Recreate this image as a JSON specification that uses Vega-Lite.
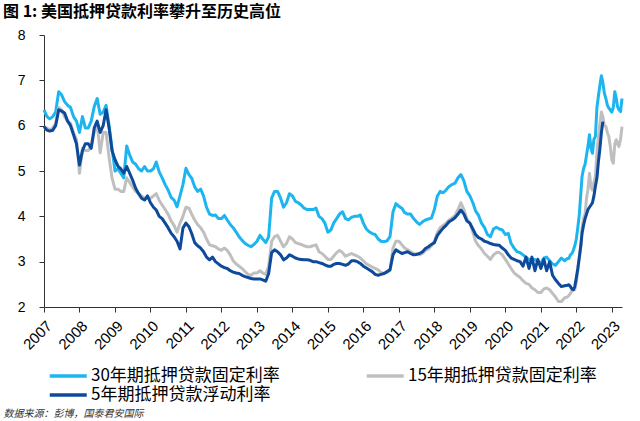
{
  "$schema": "https://vega.github.io/schema/vega-lite/v6.json",
  "width": 578,
  "height": 272,
  "autosize": "none",
  "padding": {"left": 44, "top": 35, "right": 18, "bottom": 114},
  "background": "white",
  "title": {
    "text": "图 1: 美国抵押贷款利率攀升至历史高位",
    "anchor": "start",
    "frame": "group",
    "dx": -41,
    "offset": -8,
    "baseline": "bottom",
    "fontSize": 16,
    "font": "Noto Sans CJK SC",
    "fontWeight": "bold",
    "color": "#000000"
  },
  "config": {
    "view": {"stroke": null},
    "axis": {"labelFont": "Liberation Sans", "labelColor": "#000000", "domainColor": "#333333", "tickColor": "#333333", "grid": false}
  },
  "data": {
    "values": [
      {"d": "2007-01-01", "a": 6.35, "b": 5.95, "c": 5.98},
      {"d": "2007-02-01", "a": 6.2, "b": 5.95, "c": 5.9},
      {"d": "2007-03-01", "a": 6.15, "b": 5.9, "c": 5.88},
      {"d": "2007-04-01", "a": 6.2, "b": 5.95, "c": 5.9},
      {"d": "2007-05-01", "a": 6.3, "b": 6.05, "c": 6.0},
      {"d": "2007-06-01", "a": 6.75, "b": 6.4, "c": 6.35},
      {"d": "2007-07-01", "a": 6.68, "b": 6.35, "c": 6.32},
      {"d": "2007-08-01", "a": 6.53, "b": 6.2, "c": 6.28},
      {"d": "2007-09-01", "a": 6.45, "b": 6.1, "c": 6.1},
      {"d": "2007-10-01", "a": 6.4, "b": 6.05, "c": 6.0},
      {"d": "2007-11-01", "a": 6.2, "b": 5.85, "c": 5.8},
      {"d": "2007-12-01", "a": 6.1, "b": 5.7, "c": 5.6},
      {"d": "2008-01-01", "a": 5.85, "b": 4.95, "c": 5.13},
      {"d": "2008-02-01", "a": 6.2, "b": 5.5, "c": 5.45},
      {"d": "2008-03-01", "a": 5.95, "b": 5.45, "c": 5.6},
      {"d": "2008-04-01", "a": 5.95, "b": 5.45, "c": 5.6},
      {"d": "2008-05-01", "a": 6.1, "b": 5.55, "c": 5.5},
      {"d": "2008-06-01", "a": 6.42, "b": 5.85, "c": 5.95},
      {"d": "2008-07-01", "a": 6.6, "b": 6.05, "c": 6.1},
      {"d": "2008-08-01", "a": 6.25, "b": 5.4, "c": 5.85},
      {"d": "2008-09-01", "a": 6.3, "b": 5.85, "c": 6.0},
      {"d": "2008-10-01", "a": 6.45, "b": 5.85, "c": 6.35},
      {"d": "2008-11-01", "a": 6.0, "b": 5.3, "c": 5.95},
      {"d": "2008-12-01", "a": 5.5, "b": 4.85, "c": 5.45},
      {"d": "2009-01-01", "a": 5.0, "b": 4.6, "c": 5.25},
      {"d": "2009-02-01", "a": 5.05, "b": 4.6, "c": 5.1},
      {"d": "2009-03-01", "a": 4.95, "b": 4.55, "c": 5.05},
      {"d": "2009-04-01", "a": 4.85, "b": 4.55, "c": 4.95},
      {"d": "2009-05-01", "a": 5.55, "b": 4.85, "c": 5.1},
      {"d": "2009-06-01", "a": 5.35, "b": 4.75, "c": 4.95},
      {"d": "2009-07-01", "a": 5.2, "b": 4.65, "c": 4.8},
      {"d": "2009-08-01", "a": 5.15, "b": 4.55, "c": 4.62},
      {"d": "2009-09-01", "a": 5.05, "b": 4.5, "c": 4.5},
      {"d": "2009-10-01", "a": 5.0, "b": 4.45, "c": 4.4},
      {"d": "2009-11-01", "a": 5.1, "b": 4.4, "c": 4.36},
      {"d": "2009-12-01", "a": 5.0, "b": 4.4, "c": 4.45},
      {"d": "2010-01-01", "a": 5.0, "b": 4.4, "c": 4.3},
      {"d": "2010-02-01", "a": 5.05, "b": 4.45, "c": 4.2},
      {"d": "2010-03-01", "a": 5.2, "b": 4.5, "c": 4.14},
      {"d": "2010-04-01", "a": 4.98, "b": 4.35, "c": 4.0},
      {"d": "2010-05-01", "a": 4.85, "b": 4.25, "c": 3.95},
      {"d": "2010-06-01", "a": 4.7, "b": 4.15, "c": 3.85},
      {"d": "2010-07-01", "a": 4.58, "b": 4.05, "c": 3.75},
      {"d": "2010-08-01", "a": 4.42, "b": 3.9, "c": 3.63},
      {"d": "2010-09-01", "a": 4.36, "b": 3.8, "c": 3.55},
      {"d": "2010-10-01", "a": 4.21, "b": 3.65, "c": 3.45},
      {"d": "2010-11-01", "a": 4.45, "b": 3.85, "c": 3.28},
      {"d": "2010-12-01", "a": 4.7, "b": 4.0, "c": 3.74},
      {"d": "2011-01-01", "a": 5.06, "b": 4.2, "c": 3.85},
      {"d": "2011-02-01", "a": 4.92, "b": 4.18, "c": 3.77},
      {"d": "2011-03-01", "a": 4.84, "b": 4.05, "c": 3.62},
      {"d": "2011-04-01", "a": 4.65, "b": 3.92, "c": 3.42},
      {"d": "2011-05-01", "a": 4.55, "b": 3.82, "c": 3.35},
      {"d": "2011-06-01", "a": 4.6, "b": 3.75, "c": 3.3},
      {"d": "2011-07-01", "a": 4.45, "b": 3.65, "c": 3.22},
      {"d": "2011-08-01", "a": 4.2, "b": 3.5, "c": 3.1},
      {"d": "2011-09-01", "a": 4.05, "b": 3.37, "c": 3.04},
      {"d": "2011-10-01", "a": 4.02, "b": 3.35, "c": 3.1},
      {"d": "2011-11-01", "a": 4.03, "b": 3.33, "c": 3.0},
      {"d": "2011-12-01", "a": 3.95, "b": 3.28, "c": 2.95},
      {"d": "2012-01-01", "a": 3.95, "b": 3.25, "c": 2.9},
      {"d": "2012-02-01", "a": 4.02, "b": 3.3, "c": 2.87},
      {"d": "2012-03-01", "a": 3.92, "b": 3.25, "c": 2.85},
      {"d": "2012-04-01", "a": 3.82, "b": 3.15, "c": 2.8},
      {"d": "2012-05-01", "a": 3.75, "b": 3.02, "c": 2.77},
      {"d": "2012-06-01", "a": 3.65, "b": 2.95, "c": 2.75},
      {"d": "2012-07-01", "a": 3.55, "b": 2.9, "c": 2.74},
      {"d": "2012-08-01", "a": 3.47, "b": 2.85, "c": 2.7},
      {"d": "2012-09-01", "a": 3.4, "b": 2.78, "c": 2.67},
      {"d": "2012-10-01", "a": 3.36, "b": 2.72, "c": 2.65},
      {"d": "2012-11-01", "a": 3.33, "b": 2.7, "c": 2.63},
      {"d": "2012-12-01", "a": 3.38, "b": 2.75, "c": 2.62},
      {"d": "2013-01-01", "a": 3.45, "b": 2.75, "c": 2.62},
      {"d": "2013-02-01", "a": 3.58, "b": 2.8, "c": 2.62},
      {"d": "2013-03-01", "a": 3.5, "b": 2.75, "c": 2.6},
      {"d": "2013-04-01", "a": 3.42, "b": 2.72, "c": 2.57},
      {"d": "2013-05-01", "a": 3.55, "b": 2.9, "c": 2.74},
      {"d": "2013-06-01", "a": 4.4, "b": 3.45, "c": 3.2},
      {"d": "2013-07-01", "a": 4.55, "b": 3.55, "c": 3.26},
      {"d": "2013-08-01", "a": 4.55, "b": 3.58, "c": 3.22},
      {"d": "2013-09-01", "a": 4.4, "b": 3.45, "c": 3.15},
      {"d": "2013-10-01", "a": 4.2, "b": 3.33, "c": 3.04},
      {"d": "2013-11-01", "a": 4.3, "b": 3.4, "c": 3.08},
      {"d": "2013-12-01", "a": 4.5, "b": 3.55, "c": 3.15},
      {"d": "2014-01-01", "a": 4.45, "b": 3.5, "c": 3.12},
      {"d": "2014-02-01", "a": 4.33, "b": 3.42, "c": 3.08},
      {"d": "2014-03-01", "a": 4.3, "b": 3.4, "c": 3.06},
      {"d": "2014-04-01", "a": 4.25, "b": 3.38, "c": 3.05},
      {"d": "2014-05-01", "a": 4.18, "b": 3.35, "c": 3.04},
      {"d": "2014-06-01", "a": 4.15, "b": 3.33, "c": 3.04},
      {"d": "2014-07-01", "a": 4.15, "b": 3.33, "c": 3.03},
      {"d": "2014-08-01", "a": 4.15, "b": 3.35, "c": 3.0},
      {"d": "2014-09-01", "a": 4.18, "b": 3.37, "c": 3.0},
      {"d": "2014-10-01", "a": 4.0, "b": 3.22, "c": 2.98},
      {"d": "2014-11-01", "a": 3.95, "b": 3.18, "c": 2.96},
      {"d": "2014-12-01", "a": 3.85, "b": 3.12, "c": 2.93},
      {"d": "2015-01-01", "a": 3.65, "b": 3.05, "c": 2.9},
      {"d": "2015-02-01", "a": 3.7, "b": 3.05, "c": 2.9},
      {"d": "2015-03-01", "a": 3.85, "b": 3.12, "c": 2.94},
      {"d": "2015-04-01", "a": 3.95, "b": 3.2, "c": 2.96},
      {"d": "2015-05-01", "a": 4.05, "b": 3.25, "c": 2.96},
      {"d": "2015-06-01", "a": 4.1, "b": 3.2, "c": 2.94},
      {"d": "2015-07-01", "a": 3.95, "b": 3.12, "c": 2.92},
      {"d": "2015-08-01", "a": 3.92, "b": 3.15, "c": 2.95},
      {"d": "2015-09-01", "a": 3.98, "b": 3.18, "c": 3.02},
      {"d": "2015-10-01", "a": 4.0, "b": 3.15, "c": 3.02},
      {"d": "2015-11-01", "a": 4.0, "b": 3.12, "c": 3.0},
      {"d": "2015-12-01", "a": 4.03, "b": 3.08, "c": 2.96},
      {"d": "2016-01-01", "a": 3.85, "b": 3.02, "c": 2.9},
      {"d": "2016-02-01", "a": 3.72, "b": 2.95, "c": 2.86},
      {"d": "2016-03-01", "a": 3.66, "b": 2.92, "c": 2.82},
      {"d": "2016-04-01", "a": 3.62, "b": 2.88, "c": 2.78},
      {"d": "2016-05-01", "a": 3.6, "b": 2.85, "c": 2.72},
      {"d": "2016-06-01", "a": 3.5, "b": 2.82, "c": 2.7},
      {"d": "2016-07-01", "a": 3.45, "b": 2.76, "c": 2.72},
      {"d": "2016-08-01", "a": 3.44, "b": 2.74, "c": 2.74},
      {"d": "2016-09-01", "a": 3.46, "b": 2.76, "c": 2.78},
      {"d": "2016-10-01", "a": 3.55, "b": 2.8, "c": 2.82},
      {"d": "2016-11-01", "a": 4.1, "b": 3.3, "c": 3.15},
      {"d": "2016-12-01", "a": 4.28, "b": 3.45, "c": 3.26},
      {"d": "2017-01-01", "a": 4.22, "b": 3.45, "c": 3.22},
      {"d": "2017-02-01", "a": 4.18, "b": 3.37, "c": 3.18},
      {"d": "2017-03-01", "a": 4.08, "b": 3.3, "c": 3.2},
      {"d": "2017-04-01", "a": 4.05, "b": 3.26, "c": 3.22},
      {"d": "2017-05-01", "a": 4.05, "b": 3.22, "c": 3.18},
      {"d": "2017-06-01", "a": 3.95, "b": 3.18, "c": 3.15},
      {"d": "2017-07-01", "a": 3.88, "b": 3.17, "c": 3.16},
      {"d": "2017-08-01", "a": 3.82, "b": 3.15, "c": 3.18},
      {"d": "2017-09-01", "a": 3.88, "b": 3.18, "c": 3.22},
      {"d": "2017-10-01", "a": 3.92, "b": 3.25, "c": 3.29},
      {"d": "2017-11-01", "a": 3.94, "b": 3.28, "c": 3.33},
      {"d": "2017-12-01", "a": 3.96, "b": 3.35, "c": 3.38},
      {"d": "2018-01-01", "a": 4.15, "b": 3.45, "c": 3.42},
      {"d": "2018-02-01", "a": 4.45, "b": 3.65, "c": 3.58},
      {"d": "2018-03-01", "a": 4.55, "b": 3.75, "c": 3.66},
      {"d": "2018-04-01", "a": 4.52, "b": 3.8, "c": 3.74},
      {"d": "2018-05-01", "a": 4.58, "b": 3.85, "c": 3.8},
      {"d": "2018-06-01", "a": 4.66, "b": 3.92, "c": 3.88},
      {"d": "2018-07-01", "a": 4.7, "b": 3.96, "c": 3.92},
      {"d": "2018-08-01", "a": 4.73, "b": 4.02, "c": 3.97},
      {"d": "2018-09-01", "a": 4.85, "b": 4.15, "c": 4.05},
      {"d": "2018-10-01", "a": 4.92, "b": 4.3, "c": 4.14},
      {"d": "2018-11-01", "a": 4.78, "b": 4.15, "c": 4.05},
      {"d": "2018-12-01", "a": 4.55, "b": 3.95, "c": 3.9},
      {"d": "2019-01-01", "a": 4.45, "b": 3.85, "c": 3.85},
      {"d": "2019-02-01", "a": 4.3, "b": 3.65, "c": 3.72},
      {"d": "2019-03-01", "a": 4.12, "b": 3.45, "c": 3.6},
      {"d": "2019-04-01", "a": 4.02, "b": 3.35, "c": 3.53},
      {"d": "2019-05-01", "a": 3.85, "b": 3.28, "c": 3.5},
      {"d": "2019-06-01", "a": 3.75, "b": 3.18, "c": 3.45},
      {"d": "2019-07-01", "a": 3.6, "b": 3.12, "c": 3.43},
      {"d": "2019-08-01", "a": 3.55, "b": 3.05, "c": 3.4},
      {"d": "2019-09-01", "a": 3.72, "b": 3.15, "c": 3.38},
      {"d": "2019-10-01", "a": 3.76, "b": 3.2, "c": 3.37},
      {"d": "2019-11-01", "a": 3.72, "b": 3.2, "c": 3.36},
      {"d": "2019-12-01", "a": 3.7, "b": 3.15, "c": 3.3},
      {"d": "2020-01-01", "a": 3.6, "b": 3.05, "c": 3.25},
      {"d": "2020-02-01", "a": 3.62, "b": 2.95, "c": 3.15},
      {"d": "2020-03-01", "a": 3.4, "b": 2.85, "c": 3.08},
      {"d": "2020-04-01", "a": 3.3, "b": 2.75, "c": 3.05},
      {"d": "2020-05-01", "a": 3.22, "b": 2.7, "c": 3.02},
      {"d": "2020-06-01", "a": 3.2, "b": 2.65, "c": 3.0},
      {"d": "2020-07-01", "a": 3.15, "b": 2.58, "c": 2.9},
      {"d": "2020-08-01", "a": 3.1, "b": 2.52, "c": 3.1},
      {"d": "2020-09-01", "a": 3.05, "b": 2.5, "c": 2.85},
      {"d": "2020-10-01", "a": 3.05, "b": 2.42, "c": 3.1},
      {"d": "2020-11-01", "a": 3.05, "b": 2.38, "c": 2.8},
      {"d": "2020-12-01", "a": 3.0, "b": 2.32, "c": 3.05},
      {"d": "2021-01-01", "a": 2.97, "b": 2.32, "c": 2.85},
      {"d": "2021-02-01", "a": 3.08, "b": 2.4, "c": 3.05},
      {"d": "2021-03-01", "a": 3.1, "b": 2.42, "c": 2.8},
      {"d": "2021-04-01", "a": 3.02, "b": 2.38, "c": 3.0},
      {"d": "2021-05-01", "a": 2.95, "b": 2.3, "c": 2.7},
      {"d": "2021-06-01", "a": 2.92, "b": 2.22, "c": 2.6},
      {"d": "2021-07-01", "a": 3.0, "b": 2.12, "c": 2.52},
      {"d": "2021-08-01", "a": 3.08, "b": 2.12, "c": 2.45},
      {"d": "2021-09-01", "a": 3.02, "b": 2.2, "c": 2.47},
      {"d": "2021-10-01", "a": 3.07, "b": 2.22, "c": 2.48},
      {"d": "2021-10-16", "a": 3.07, "b": 2.25, "c": 2.49},
      {"d": "2021-11-01", "a": 3.15, "b": 2.3, "c": 2.45},
      {"d": "2021-11-16", "a": 3.18, "b": 2.35, "c": 2.4},
      {"d": "2021-12-01", "a": 3.25, "b": 2.38, "c": 2.38},
      {"d": "2021-12-16", "a": 3.35, "b": 2.38, "c": 2.45},
      {"d": "2022-01-01", "a": 3.5, "b": 2.55, "c": 2.65},
      {"d": "2022-01-16", "a": 3.75, "b": 2.8, "c": 2.85},
      {"d": "2022-02-01", "a": 4.05, "b": 3.1, "c": 3.1},
      {"d": "2022-02-16", "a": 4.5, "b": 3.35, "c": 3.35},
      {"d": "2022-03-01", "a": 4.88, "b": 3.75, "c": 3.63},
      {"d": "2022-03-16", "a": 5.05, "b": 3.95, "c": 3.8},
      {"d": "2022-04-01", "a": 5.15, "b": 4.05, "c": 3.95},
      {"d": "2022-04-16", "a": 5.35, "b": 4.4, "c": 4.05},
      {"d": "2022-05-01", "a": 5.55, "b": 4.6, "c": 4.15},
      {"d": "2022-05-16", "a": 5.8, "b": 4.95, "c": 4.2},
      {"d": "2022-06-01", "a": 5.5, "b": 4.65, "c": 4.25},
      {"d": "2022-06-16", "a": 5.39, "b": 4.58, "c": 4.3},
      {"d": "2022-07-01", "a": 5.7, "b": 4.75, "c": 4.45},
      {"d": "2022-07-16", "a": 5.76, "b": 4.88, "c": 4.66},
      {"d": "2022-08-01", "a": 6.4, "b": 5.4, "c": 4.85},
      {"d": "2022-08-16", "a": 6.65, "b": 5.75, "c": 5.2},
      {"d": "2022-09-01", "a": 6.9, "b": 6.05, "c": 5.5},
      {"d": "2022-09-16", "a": 7.1, "b": 6.3, "c": 5.85},
      {"d": "2022-10-01", "a": 6.95, "b": 6.2, "c": 6.09},
      {"d": "2022-10-16", "a": 6.72, "b": 6.0},
      {"d": "2022-11-01", "a": 6.6, "b": 5.98},
      {"d": "2022-11-16", "a": 6.45, "b": 5.85},
      {"d": "2022-12-01", "a": 6.39, "b": 5.76},
      {"d": "2022-12-16", "a": 6.35, "b": 5.55},
      {"d": "2023-01-01", "a": 6.3, "b": 5.25},
      {"d": "2023-01-16", "a": 6.4, "b": 5.17},
      {"d": "2023-02-01", "a": 6.75, "b": 5.6},
      {"d": "2023-02-16", "a": 6.6, "b": 5.69},
      {"d": "2023-03-01", "a": 6.42, "b": 5.6},
      {"d": "2023-03-16", "a": 6.35, "b": 5.54},
      {"d": "2023-04-01", "a": 6.31, "b": 5.7},
      {"d": "2023-04-16", "a": 6.6, "b": 5.98}
    ]
  },
  "transform": [{"fold": ["a", "b", "c"], "as": ["s", "v"]}],
  "mark": {"type": "line", "strokeWidth": 3, "strokeJoin": "round"},
  "encoding": {
    "x": {
      "field": "d",
      "type": "temporal",
      "scale": {"type": "utc", "domain": [{"year": 2007, "month": 1, "date": 1, "utc": true}, {"year": 2023, "month": 4, "date": 16, "utc": true}], "nice": false},
      "axis": {
        "title": "数据来源：彭博，国泰君安国际",
        "titleFont": "Noto Sans CJK SC",
        "titleFontSize": 10,
        "titleFontStyle": "italic",
        "titleFontWeight": "normal",
        "titleColor": "#333333",
        "titleAnchor": "start",
        "titleAlign": "left",
        "titleBaseline": "middle",
        "titleX": -41,
        "titleY": 106,
        "format": "%Y",
        "tickCount": {"interval": "year", "step": 1},
        "labelAngle": -45,
        "labelFontSize": 15,
        "labelPadding": 6,
        "tickSize": 5,
        "labelOverlap": false
      }
    },
    "y": {
      "field": "v",
      "type": "quantitative",
      "scale": {"domain": [2, 8], "nice": false, "zero": false},
      "axis": {"title": null, "values": [2, 3, 4, 5, 6, 7, 8], "labelFontSize": 14, "tickSize": 5, "labelPadding": 14}
    },
    "color": {
      "field": "s",
      "type": "nominal",
      "scale": {"domain": ["a", "b", "c"], "range": ["#1CB5EF", "#BFBFBF", "#0D4A9B"]},
      "legend": {
        "title": null,
        "values": ["a", "c", "b"],
        "orient": "none",
        "legendX": 4,
        "legendY": 330,
        "columns": 2,
        "columnPadding": 79,
        "rowPadding": 0,
        "padding": 0,
        "symbolType": "M-1,0H3",
        "symbolSize": 342,
        "symbolStrokeWidth": 3.5,
        "labelFont": "Noto Sans CJK SC",
        "labelFontSize": 17,
        "labelColor": "#000000",
        "labelOffset": 21,
        "labelLimit": 320,
        "labelExpr": "datum.value == 'a' ? '30年期抵押贷款固定利率' : datum.value == 'b' ? '15年期抵押贷款固定利率' : '5年期抵押贷款浮动利率'"
      }
    }
  }
}
